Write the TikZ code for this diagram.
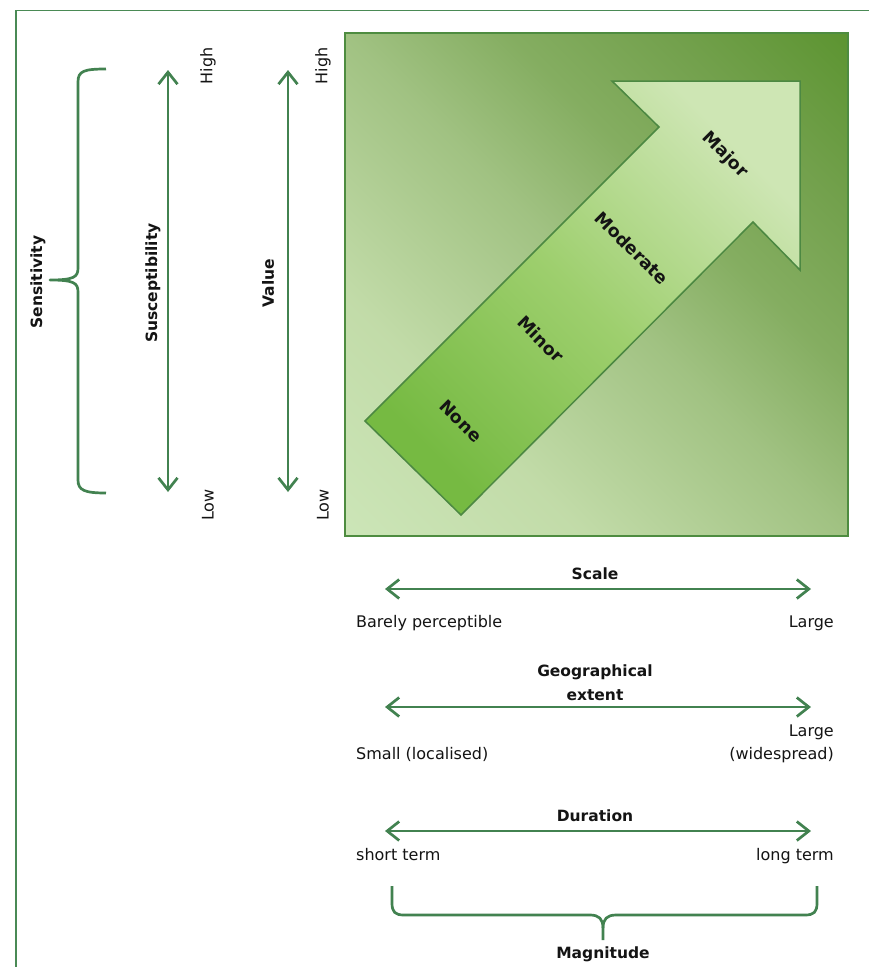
\documentclass[tikz,border=0pt]{standalone}
\usepackage{fontspec}
\setmainfont{DejaVu Sans}
\usetikzlibrary{arrows.meta}
\definecolor{lineg}{RGB}{66,130,80}
\definecolor{frameg}{RGB}{74,138,85}
\definecolor{sqborder}{RGB}{78,140,64}
\definecolor{arrowborder}{RGB}{76,136,66}
\definecolor{tailg}{RGB}{118,186,66}
\definecolor{midg}{RGB}{158,207,110}
\definecolor{headg}{RGB}{206,230,180}
\definecolor{txt}{RGB}{20,20,20}
\pgfdeclarehorizontalshading{sqgrad}{100bp}{rgb(0bp)=(0.80,0.90,0.72); rgb(25bp)=(0.80,0.90,0.72); rgb(37bp)=(0.76,0.86,0.66); rgb(50bp)=(0.63,0.76,0.51); rgb(58bp)=(0.52,0.68,0.38); rgb(66bp)=(0.45,0.63,0.30); rgb(75bp)=(0.36,0.58,0.19); rgb(100bp)=(0.36,0.58,0.19)}
\begin{document}
\begin{tikzpicture}[x=1pt,y=-1pt,
  every node/.style={inner sep=0pt, text=txt},
  lab/.style={font=\fontsize{16}{24}\selectfont},
  blab/.style={font=\fontsize{15.5}{24}\selectfont\bfseries},
  alab/.style={font=\fontsize{17.5}{24}\selectfont\bfseries, rotate=-45},
  dbl/.style={draw=lineg, line width=2.7pt, >={Straight Barb[length=12pt,width=19pt]}, <->},
  bracestyle/.style={draw=lineg, line width=2.7pt, line join=round},
]
\useasboundingbox (0,0) rectangle (869,967);
\fill[white] (0,0) rectangle (869,967);

% outer frame
\coordinate (frTR) at (869,10.5);
\coordinate (frTL) at (16,10.5);
\coordinate (frBL) at (16,967);
\draw[frameg, line width=1.8pt] (frTR) -- (frTL) -- (frBL);

% square
\coordinate (sqNW) at (345,33);
\coordinate (sqSE) at (848,536);
\coordinate (sqSW) at (345,536);
\begin{scope}
  \clip (sqNW) rectangle (sqSE);
  \begin{scope}[transform canvas={shift={(sqSW)}, rotate=45}]
    \shade[shading=sqgrad] (0,-520) rectangle (712,520);
  \end{scope}
\end{scope}
\draw[sqborder, line width=1.6pt] (sqNW) rectangle (sqSE);

% big arrow
\path[draw=arrowborder, line width=1.5pt, shade, bottom color=tailg, top color=headg, middle color=midg, shading angle=-45]
  (365,421) -- (659,127) -- (612,81) -- (800,81) -- (800,270) -- (753,222) -- (461,515) -- cycle;

\node[alab] (none) at (461,421) {None};
\node[alab] (minor) at (541,339) {Minor};
\node[alab] (moderate) at (632,248) {Moderate};
\node[alab] (major) at (725,155) {Major};

% left side
\coordinate (sensT) at (106,69);
\coordinate (sensM) at (50,280);
\coordinate (sensB) at (106,493);
\draw[bracestyle] (sensT) .. controls (84,69) and (78,71) .. (78,82) -- (78,268)
  .. controls (78,277) and (74,280) .. (sensM)
  .. controls (74,280) and (78,283) .. (78,292) -- (78,480)
  .. controls (78,490) and (84,493) .. (sensB);
\node[blab, rotate=90] (sens) at (38,282) {Sensitivity};

\coordinate (susT) at (168,70);
\coordinate (susB) at (168,492);
\draw[dbl] (susT) -- (susB);
\node[blab, rotate=90] (susc) at (153,283) {Susceptibility};
\node[lab, rotate=90] (hi1) at (208,66) {High};
\node[lab, rotate=90] (lo1) at (208,505) {Low};

\coordinate (valT) at (288,70);
\coordinate (valB) at (288,492);
\draw[dbl] (valT) -- (valB);
\node[blab, rotate=90] (val) at (268,283) {Value};
\node[lab, rotate=90] (hi2) at (323,66) {High};
\node[lab, rotate=90] (lo2) at (323,505) {Low};

% scale
\node[blab, anchor=base] (scale) at (595,579) {Scale};
\coordinate (scL) at (385,589);
\coordinate (scR) at (811,589);
\draw[dbl] (scL) -- (scR);
\node[lab, anchor=base west] (bp) at (356,627) {Barely perceptible};
\node[lab, anchor=base east] (lg1) at (834,627) {Large};

% geographical extent
\node[blab, anchor=base] (geo1) at (595,676) {Geographical};
\node[blab, anchor=base] (geo2) at (595,700) {extent};
\coordinate (geL) at (385,707);
\coordinate (geR) at (811,707);
\draw[dbl] (geL) -- (geR);
\node[lab, anchor=base east] (lg2a) at (834,736) {Large};
\node[lab, anchor=base east] (lg2b) at (834,759) {(widespread)};
\node[lab, anchor=base west] (small) at (356,759) {Small (localised)};

% duration
\node[blab, anchor=base] (dur) at (595,821) {Duration};
\coordinate (duL) at (385,831);
\coordinate (duR) at (811,831);
\draw[dbl] (duL) -- (duR);
\node[lab, anchor=base west] (st) at (356,860) {short term};
\node[lab, anchor=base east] (lt) at (834,860) {long term};

% magnitude brace
\coordinate (magL) at (392,886);
\coordinate (magR) at (817,886);
\coordinate (magM) at (603,940);
\draw[bracestyle] (magL) -- (392,903) .. controls (392,912) and (395,915) .. (404,915) -- (590,915)
  .. controls (599,915) and (603,919) .. (603,928) -- (magM);
\draw[bracestyle] (magR) -- (817,903) .. controls (817,912) and (814,915) .. (805,915) -- (616,915)
  .. controls (607,915) and (603,919) .. (603,928);
\node[blab, anchor=base] (mag) at (603,958) {Magnitude};
\end{tikzpicture}
\end{document}
